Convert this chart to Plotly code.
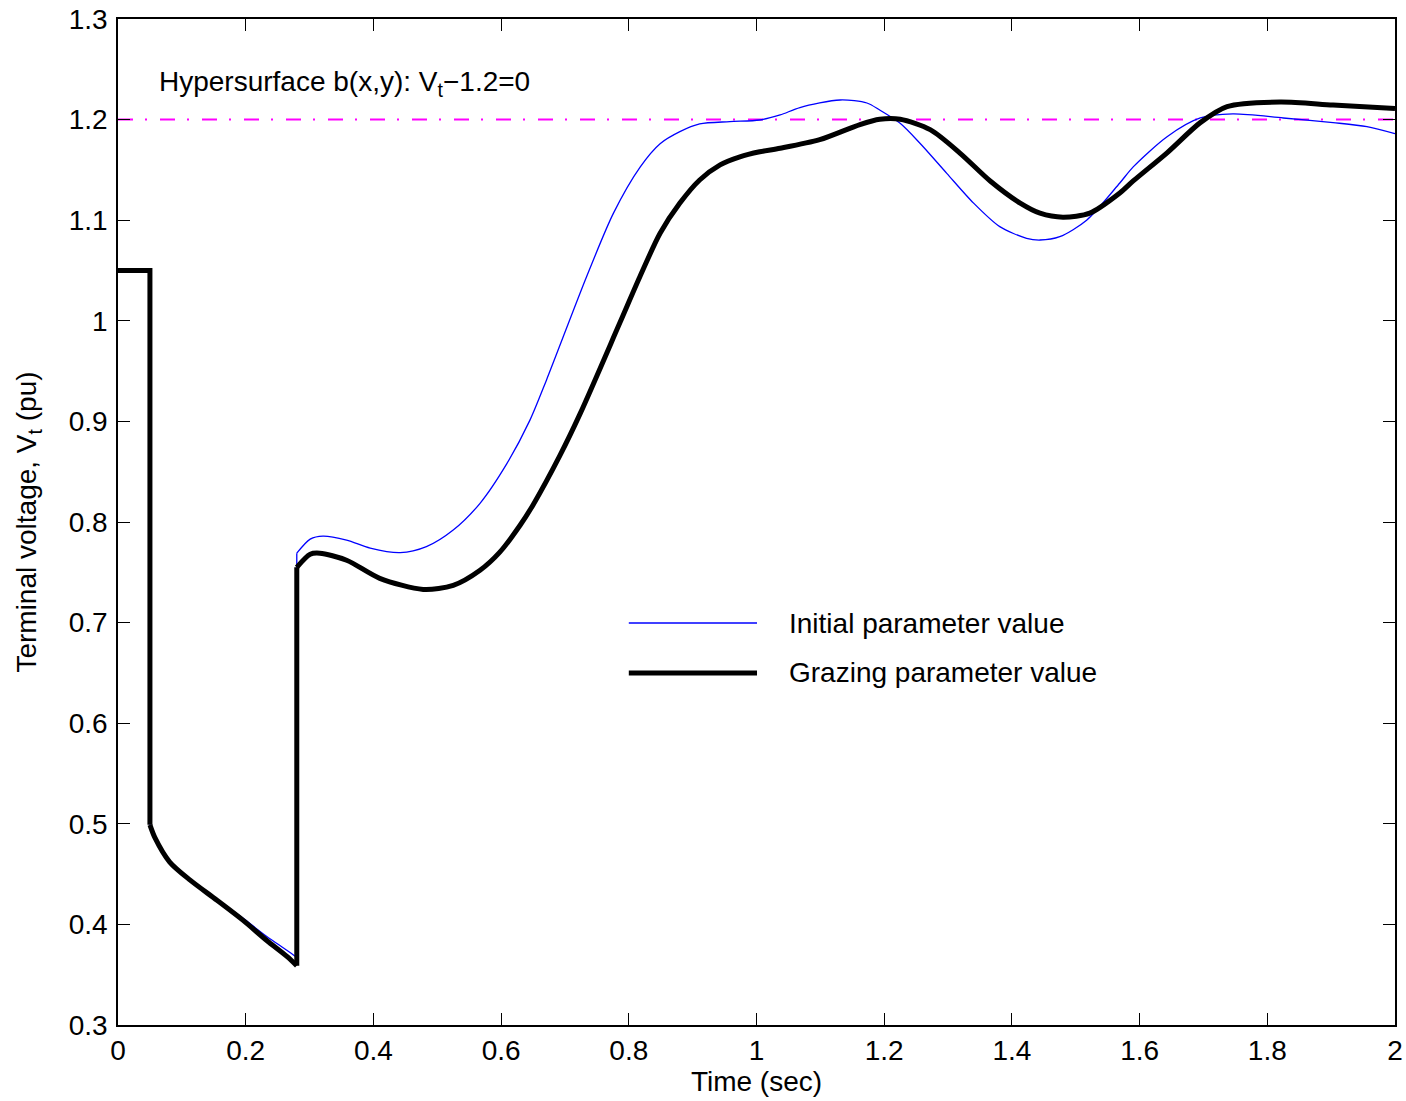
import plotly.graph_objects as go

# pre-fault (both cases identical)
t_pre = [0, 0.05]
v_pre = [1.05, 1.05]

# fault-on period
t_fault = [0.05, 0.058, 0.081, 0.113, 0.155, 0.196, 0.233, 0.265, 0.28]
v_fault_graze = [0.499, 0.486, 0.462, 0.444, 0.424, 0.404, 0.384, 0.368, 0.359]
v_fault_init = [0.499, 0.486, 0.462, 0.444, 0.425, 0.406, 0.388, 0.374, 0.367]

# post-fault, grazing parameter value (thick black)
t_post_graze = [0.28, 0.301, 0.316, 0.358, 0.41, 0.478, 0.525, 0.567, 0.598, 0.63,
                0.65, 0.692, 0.724, 0.786, 0.8175, 0.849, 0.88, 0.911, 0.943, 0.974,
                1.005, 1.037, 1.099, 1.162, 1.193, 1.225, 1.272, 1.319, 1.366, 1.413,
                1.444, 1.48, 1.522, 1.569, 1.59, 1.643, 1.695, 1.737, 1.82, 1.903, 2.0]
v_post_graze = [0.755, 0.768, 0.769, 0.762, 0.744, 0.733, 0.737, 0.752, 0.770, 0.797,
                0.817, 0.866, 0.908, 0.998, 1.044, 1.087, 1.117, 1.140, 1.155, 1.163,
                1.168, 1.1715, 1.180, 1.195, 1.2003, 1.2003, 1.190, 1.1665, 1.139, 1.117,
                1.107, 1.103, 1.107, 1.127, 1.139, 1.167, 1.197, 1.213, 1.2175, 1.2145, 1.211]

# post-fault, initial parameter value (thin blue)
t_post_init = [0.28, 0.301, 0.321, 0.358, 0.395, 0.442, 0.483, 0.525, 0.567, 0.609,
               0.645, 0.671, 0.734, 0.776, 0.818, 0.849, 0.88, 0.911, 0.958, 1.005,
               1.037, 1.068, 1.131, 1.173, 1.193, 1.225, 1.256, 1.298, 1.34, 1.381,
               1.423, 1.444, 1.475, 1.517, 1.569, 1.59, 1.643, 1.695, 1.746, 1.825,
               1.903, 1.956, 2.0]
v_post_init = [0.769, 0.783, 0.786, 0.782, 0.774, 0.7695, 0.7755, 0.792, 0.8186, 0.858,
               0.901, 0.941, 1.044, 1.107, 1.153, 1.176, 1.188, 1.1957, 1.198, 1.1996,
               1.2046, 1.212, 1.2195, 1.2165, 1.2095, 1.1963, 1.1765, 1.1466, 1.117, 1.0936,
               1.082, 1.0803, 1.0836, 1.100, 1.137, 1.153, 1.183, 1.2016, 1.2056, 1.2016,
               1.197, 1.193, 1.186]

v_limit = 1.2

FONT = "Liberation Sans, Arial, sans-serif"
FS = 28

fig = go.Figure()


def add_series(v_fault, t_post, v_post, color, width):
    ln = dict(color=color, width=width)
    # step down at fault inception
    fig.add_trace(go.Scatter(x=t_pre + [t_fault[0]], y=v_pre + [v_fault[0]],
                             mode="lines", line=ln, hoverinfo="skip"))
    fig.add_trace(go.Scatter(x=t_fault, y=v_fault, mode="lines",
                             line=dict(ln, shape="spline", smoothing=0.8)))
    # jump at fault clearing
    fig.add_trace(go.Scatter(x=[t_fault[-1], t_post[0]], y=[v_fault[-1], v_post[0]],
                             mode="lines", line=ln, hoverinfo="skip"))
    fig.add_trace(go.Scatter(x=t_post, y=v_post, mode="lines",
                             line=dict(ln, shape="spline", smoothing=0.8)))


add_series(v_fault_init, t_post_init, v_post_init, "#0000ff", 1.3)
add_series(v_fault_graze, t_post_graze, v_post_graze, "black", 5)

# hypersurface line
fig.add_shape(type="line", xref="paper", x0=0, x1=1, yref="y", y0=v_limit, y1=v_limit,
              line=dict(color="#ff00ff", width=2, dash="15px,12px,2px,13px"), layer="below")

fig.add_annotation(xref="paper", yref="paper", x=0.0305, y=0.936, xanchor="left", yanchor="middle",
                   text="Hypersurface b(x,y): V<sub>t</sub>\u22121.2=0", showarrow=False,
                   font=dict(size=FS, color="black", family=FONT))

# hand-drawn legend
leg = [("Initial parameter value", "#0000ff", 1.3, 0.3996),
       ("Grazing parameter value", "black", 5, 0.350)]
for label, col, w, yy in leg:
    fig.add_shape(type="line", xref="paper", yref="paper", x0=0.400, x1=0.5004, y0=yy, y1=yy,
                  line=dict(color=col, width=w))
    fig.add_annotation(xref="paper", yref="paper", x=0.5235, y=yy, xanchor="left", yanchor="middle",
                       text=label, showarrow=False, font=dict(size=FS, color="black", family=FONT))

axis_common = dict(showline=True, linecolor="black", linewidth=1.5, mirror="ticks",
                   ticks="inside", ticklen=12, tickcolor="black", tickwidth=1.2,
                   showgrid=False, zeroline=False, automargin=False,
                   ticklabeloverflow="allow",
                   tickfont=dict(size=FS, color="black", family=FONT))

fig.update_xaxes(range=[0, 2], dtick=0.2, tick0=0,
                 title=dict(text="Time (sec)", font=dict(size=FS, color="black", family=FONT), standoff=6),
                 **axis_common)
fig.update_yaxes(range=[0.3, 1.3], dtick=0.1, tick0=0.3, ticklabelstandoff=3,
                 title=dict(text="Terminal voltage, V<sub>t</sub> (pu)",
                            font=dict(size=FS, color="black", family=FONT), standoff=24),
                 **axis_common)

fig.update_layout(width=1406, height=1101, showlegend=False,
                  plot_bgcolor="white", paper_bgcolor="white",
                  margin=dict(l=118, r=11, t=19, b=76),
                  font=dict(family=FONT, color="black"))

# drop the default 8px body margin so the figure fills the window
fig.write_html("out.html", config={"displayModeBar": False},
               post_script="document.body.style.margin='0';")
